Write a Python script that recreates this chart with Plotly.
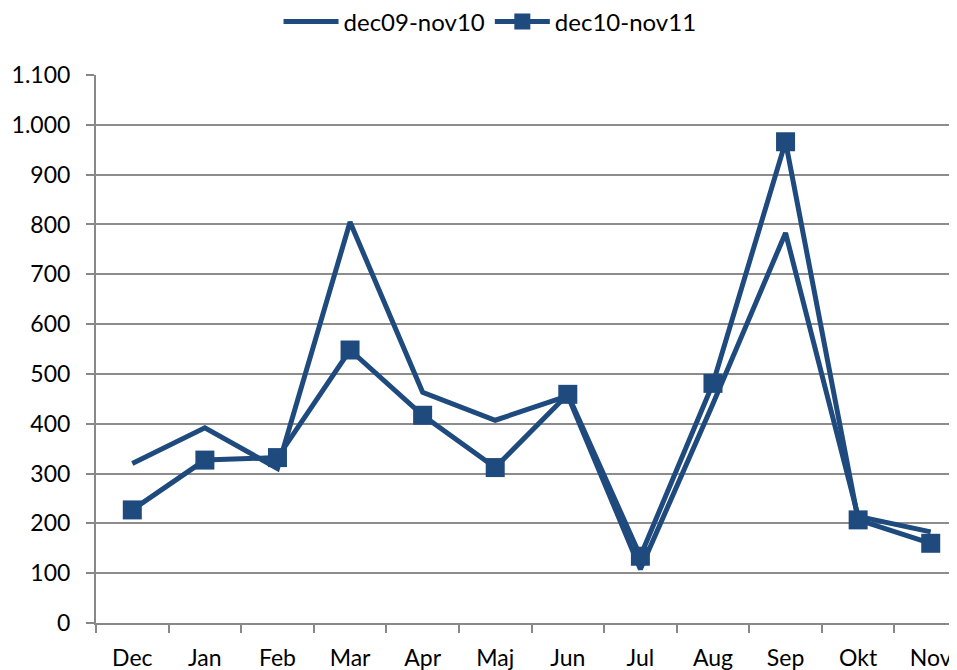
import plotly.graph_objects as go

months = ["Dec", "Jan", "Feb", "Mar", "Apr", "Maj", "Jun", "Jul", "Aug", "Sep", "Okt", "Nov"]
s1_name = "dec09-nov10"
s1 = [320, 392, 310, 805, 463, 407, 456, 108, 440, 783, 214, 183]
s2_name = "dec10-nov11"
s2 = [227, 327, 332, 548, 417, 312, 459, 134, 481, 966, 207, 160]
y_ticks = list(range(0, 1101, 100))

color = "#1F4A7E"
fig = go.Figure()
fig.add_trace(go.Scatter(x=months, y=s1, name=s1_name, mode="lines",
                         line=dict(color=color, width=5)))
fig.add_trace(go.Scatter(x=months, y=s2, name=s2_name, mode="lines+markers",
                         line=dict(color=color, width=5),
                         marker=dict(symbol="square", size=19, color=color)))

# page has an 8px body margin: figure is sized/offset to land on the window
fig.update_layout(
    width=949, height=662,
    margin=dict(l=88, r=0, t=67, b=47),
    paper_bgcolor="white", plot_bgcolor="white",
    separators=",.",
    font=dict(family="Lato, Open Sans, sans-serif", size=22, color="black"),
    showlegend=True,
    legend=dict(orientation="h", x=0.212, xanchor="left", y=1 - 14 / 662, yanchor="middle",
                yref="container", font=dict(size=24), itemwidth=55),
)
fig.update_xaxes(type="category", categoryorder="array", categoryarray=months,
                 range=[-0.5, 11.362], showgrid=False, showline=True, automargin=False,
                 linecolor="#888888", linewidth=2, ticks="outside", tickson="boundaries",
                 ticklen=8, tickwidth=2, tickcolor="#888888", ticklabelstandoff=13,
                 tickfont=dict(size=23))
fig.update_yaxes(range=[0, 1100], tickvals=y_ticks, tickformat=",d", automargin=False,
                 showgrid=True, gridcolor="#8c8c8c", gridwidth=2,
                 showline=True, linecolor="#888888", linewidth=2,
                 ticks="outside", ticklen=8, tickwidth=2, tickcolor="#888888",
                 ticklabelstandoff=11, zeroline=False, tickfont=dict(size=23))

fig.write_html("out.html")
